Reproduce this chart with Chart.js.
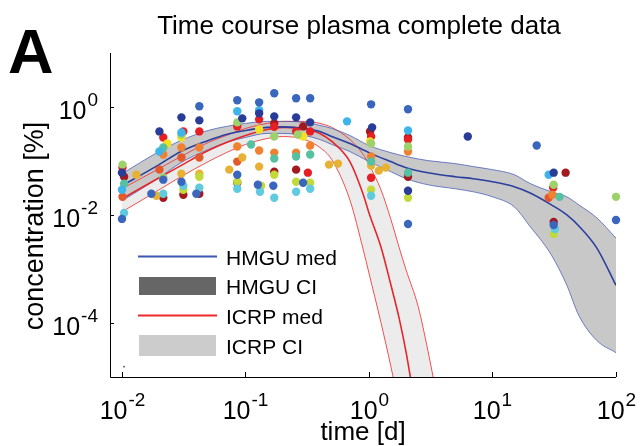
<!DOCTYPE html>
<html><head><meta charset="utf-8">
<script src="https://cdn.jsdelivr.net/npm/chart.js@4.4.0/dist/chart.umd.min.js"></script>
<style>html,body{margin:0;padding:0;background:#fff;}#wrap{width:643px;height:446px;}</style>
</head><body><div id="wrap"><canvas id="c" width="643" height="446"></canvas></div>
<script>
// ---- axis ticks ----
const xTicks = [0.01, 0.1, 1, 10, 100];
const xTickExp = ['-2', '-1', '0', '1', '2'];
const yTicks = [1e-4, 1e-2, 1];
const yTickExp = ['-4', '-2', '0'];

// ---- HMGU model (median + CI) ----
const hmguT   = [0.01,0.02,0.03,0.05,0.07,0.1,0.15,0.2,0.3,0.4,0.5,0.7,1,1.5,2,3,5,7,10,15,20,30,40,50,70,100];
const hmguMed = [0.0348,0.0857,0.150,0.240,0.310,0.368,0.419,0.428,0.401,0.353,0.284,0.211,0.143,0.0975,0.0753,0.0608,0.0512,0.047,0.0413,0.0334,0.0258,0.0154,0.01005,0.00627,0.00244,0.000499];
const hmguHi  = [0.0582,0.150,0.240,0.368,0.437,0.497,0.542,0.542,0.519,0.456,0.401,0.297,0.194,0.143,0.121,0.1017,0.0895,0.0787,0.0692,0.0558,0.0387,0.0269,0.0217,0.0154,0.00883,0.00374];
const hmguLo  = [0.0183,0.0491,0.0933,0.163,0.220,0.273,0.324,0.324,0.297,0.250,0.202,0.150,0.0975,0.0635,0.047,0.0363,0.0306,0.0269,0.0217,0.01415,0.00627,0.00181,0.000499,0.000138,4.72e-5,2.82e-5];

// ---- ICRP model (median + CI) ----
const icrpT   = [0.01,0.02,0.03,0.05,0.07,0.1,0.15,0.2,0.3,0.4,0.5,0.7,0.9,1,1.25,1.5,1.75,2,2.5,3,3.5,4];
const icrpMed = [0.0199,0.0491,0.082,0.156,0.220,0.297,0.384,0.419,0.401,0.324,0.230,0.0975,0.0237,0.0109,2.55e-3,5.21e-4,1.26e-4,2.82e-5,1.23e-6,6.4e-8,3.8e-9,2.9e-10];
const icrpHi  = [0.0306,0.0722,0.121,0.220,0.297,0.401,0.497,0.542,0.542,0.497,0.419,0.250,0.1316,0.0857,0.0293,8.46e-3,2.55e-3,9.5e-4,2.03e-4,3.07e-5,5.08e-6,1.0e-6];
const icrpLo  = [0.01142,0.0293,0.0512,0.0975,0.143,0.202,0.261,0.284,0.250,0.178,0.106,0.0191,2.24e-3,8.36e-4,1.02e-4,1.61e-5,2.91e-6,5.2e-7,2.1e-8,1.05e-9,8e-11,6e-12];

// ---- measured data, one array per subject colour: [time d, concentration %] ----
const subjDarkBlue = [[0.01,0.0608],[0.0201,0.353],[0.0303,0.643],[0.0423,0.565],[0.0942,0.616],[0.129,0.763],[0.171,0.671],[0.257,0.643],[0.334,0.519],[1.06,0.419],[2.07,0.0281],[6.31,0.284],[31.3,0.0608]];
const subjBlue = [[0.01,0.00846],[0.0173,0.0247],[0.0216,0.0451],[0.0303,0.0413],[0.0423,1.03],[0.040,0.0247],[0.0858,1.33],[0.0858,0.0558],[0.129,1.22],[0.126,0.0363],[0.171,1.80],[0.168,0.0348],[0.257,1.45],[0.293,0.0396],[0.334,1.45],[1.04,1.12],[2.07,0.906],[2.07,0.00683],[22.8,0.194],[31.3,0.00654],[100,0.0081]];
const subjLightBlue = [[0.01,0.0293],[0.0201,0.150],[0.0303,0.338],[0.0858,0.832],[0.129,0.868],[0.664,0.542],[2.07,0.368],[28.5,0.0558]];
const subjCyan = [[0.0104,0.0109],[0.0216,0.0247],[0.0314,0.0348],[0.0423,0.032],[0.0858,0.0306],[0.131,0.0269],[0.171,0.0208],[0.257,0.0269],[0.334,0.0306],[1.04,0.0227],[32,0.00551]];
const subjTeal = [[0.0104,0.0379],[0.0216,0.178],[0.111,0.202],[0.171,0.111],[0.257,0.121],[0.334,0.132],[1.04,0.0975],[2.07,0.0608],[34.9,0.0217]];
const subjLightGreen = [[0.0101,0.0857],[0.0216,0.0491],[0.0303,0.31],[0.0858,0.519],[0.171,0.284],[0.265,0.31],[1.04,0.211],[2.07,0.185],[31.3,0.0363],[100,0.0217]];
const subjYellowGreen = [[0.0314,0.0293],[0.0423,0.0512],[0.0858,0.0413],[0.134,0.0348],[0.171,0.0558],[0.257,0.0413],[0.334,0.0396],[1.04,0.0293],[2.07,0.0208],[31.3,0.00445]];
const subjYellow = [[0.0233,0.211],[0.0303,0.273],[0.129,0.384],[0.293,0.284],[1.02,0.230]];
const subjGold = [[0.0131,0.0558],[0.019,0.0227],[0.0303,0.0582],[0.0423,0.0582],[0.0739,0.0692],[0.0942,0.116],[0.129,0.0787],[0.475,0.0857],[0.561,0.0895],[1.04,0.082],[1.20,0.0663],[1.37,0.0753]];
const subjOrange = [[0.0216,0.132],[0.0303,0.178],[0.0423,0.178],[0.0858,0.185],[0.129,0.156],[0.171,0.143],[0.257,0.143],[0.334,0.194],[1.04,0.121],[2.07,0.150],[30.5,0.0237]];
const subjRedOrange = [[0.0101,0.0217],[0.0201,0.0692],[0.0303,0.116],[0.0423,0.116],[0.0858,0.0975],[28.5,0.0208]];
const subjRed = [[0.0101,0.0753],[0.0216,0.273],[0.0314,0.353],[0.0423,0.353],[0.0858,0.437],[0.129,0.59],[0.171,0.43],[0.257,0.353],[0.334,0.353],[0.32,0.0608],[1.04,0.284],[1.04,0.0491],[2.07,0.25],[31,0.032]];
const subjDarkRed = [[0.0104,0.0512],[0.0216,0.0208],[0.0314,0.0237],[0.0423,0.0247],[0.0858,0.0396],[0.171,0.497],[0.171,0.0635],[0.257,0.0692],[0.293,0.437],[1.02,0.353],[2.07,0.273],[2.07,0.0512],[39.1,0.0608],[31.3,0.00744]];
const subjTrace = [[0.0104,1.55e-5]];

const subjects = [
  [subjDarkBlue, '#293d98', 4.2], [subjBlue, '#3a66bd', 4.2], [subjLightBlue, '#3db5ea', 4.2], [subjCyan, '#60cade', 4.2],
  [subjTeal, '#56c1a0', 4.2], [subjLightGreen, '#9dd16c', 4.2], [subjYellowGreen, '#c3d93a', 4.2], [subjYellow, '#f3e11f', 4.2],
  [subjGold, '#e7b133', 4.2], [subjOrange, '#ef8131', 4.2], [subjRedOrange, '#e4592c', 4.2], [subjRed, '#e61f25', 4.2],
  [subjDarkRed, '#a3191f', 4.2], [subjTrace, '#555555', 0.9]
];

const FONT = '"Liberation Sans", Arial, Helvetica, sans-serif';
const pts = (T, V) => T.map((t, i) => ({x: t, y: V[i]}));
const curve = (T, V, color, width, order, extra) => Object.assign({
  data: pts(T, V), showLine: true, pointRadius: 0, borderColor: color, borderWidth: width,
  cubicInterpolationMode: 'monotone', fill: false, order: order
}, extra || {});

const datasets = [];
subjects.forEach(([arr, col, r]) => datasets.push({
  data: arr.map(p => ({x: p[0], y: p[1]})), backgroundColor: col, borderWidth: 0,
  pointRadius: r, pointHoverRadius: r, clip: false, order: 0
}));
const iHmguHi = datasets.length;
datasets.push(curve(hmguT, hmguHi, 'rgba(70,90,185,0.75)', 1, 5, {fill: {target: iHmguHi + 1}, backgroundColor: '#c8c8c8'}));
datasets.push(curve(hmguT, hmguLo, 'rgba(70,90,185,0.75)', 1, 5));
const iIcrpHi = datasets.length;
datasets.push(curve(icrpT, icrpHi, 'rgba(240,50,50,0.85)', 1, 6, {fill: {target: iIcrpHi + 1}, backgroundColor: '#ececec'}));
datasets.push(curve(icrpT, icrpLo, 'rgba(240,50,50,0.85)', 1, 6));
datasets.push(curve(hmguT, hmguMed, '#2b3f9e', 1.6, 2));
datasets.push(curve(icrpT, icrpMed, '#e8262a', 1.6, 3));

function drawPow(ctx, base, exp, x, y, align) {
  ctx.font = '25px ' + FONT;
  const bw = ctx.measureText(base).width;
  ctx.font = '19px ' + FONT;
  const ew = ctx.measureText(exp).width;
  const total = bw + ew + 1;
  let x0 = align === 'right' ? x - total : x - total / 2;
  ctx.textAlign = 'left';
  ctx.textBaseline = 'alphabetic';
  ctx.font = '25px ' + FONT;
  ctx.fillText(base, x0, y);
  ctx.font = '19px ' + FONT;
  ctx.fillText(exp, x0 + bw + 1, y - 13);
}

const deco = {
  id: 'deco',
  afterDraw(chart) {
    const {ctx, chartArea: a, scales: {x, y}} = chart;
    ctx.save();
    ctx.strokeStyle = '#000';
    ctx.lineWidth = 1;
    ctx.beginPath();
    ctx.moveTo(a.left + 0.5, a.top);
    ctx.lineTo(a.left + 0.5, a.bottom + 0.5);
    ctx.lineTo(a.right, a.bottom + 0.5);
    ctx.stroke();
    ctx.fillStyle = '#000';
    xTicks.forEach((v, i) => {
      const px = Math.round(x.getPixelForValue(v)) + 0.5;
      ctx.beginPath(); ctx.moveTo(px, a.bottom); ctx.lineTo(px, a.bottom - 5); ctx.stroke();
      drawPow(ctx, '10', xTickExp[i], px, a.bottom + 42, 'center');
    });
    yTicks.forEach((v, i) => {
      const py = Math.round(y.getPixelForValue(v)) + 0.5;
      ctx.beginPath(); ctx.moveTo(a.left, py); ctx.lineTo(a.left + 4, py); ctx.stroke();
      drawPow(ctx, '10', yTickExp[i], a.left - 12, py + 11, 'right');
    });
    // axis titles
    ctx.font = '26px ' + FONT;
    ctx.textAlign = 'center';
    ctx.textBaseline = 'alphabetic';
    ctx.fillText('time [d]', (a.left + a.right) / 2, a.bottom + 63);
    ctx.save();
    ctx.font = '27px ' + FONT;
    ctx.translate(43, (a.top + a.bottom) / 2 + 11);
    ctx.rotate(-Math.PI / 2);
    ctx.fillText('concentration [%]', 0, 0);
    ctx.restore();
    // title
    ctx.font = '26px ' + FONT;
    ctx.fillText('Time course plasma complete data', (a.left + a.right) / 2 - 4, 34);
    // panel letter
    ctx.font = 'bold 63px ' + FONT;
    ctx.textAlign = 'left';
    ctx.fillText('A', 8, 73);
    // legend
    const lx0 = a.left + 28, lx1 = a.left + 107, tx = a.left + 116;
    ctx.font = '21px ' + FONT;
    ctx.lineWidth = 2;
    ctx.strokeStyle = '#3c56b2';
    ctx.beginPath(); ctx.moveTo(lx0, 256.5); ctx.lineTo(lx1, 256.5); ctx.stroke();
    ctx.fillStyle = '#666666';
    ctx.fillRect(lx0 + 1, 277, lx1 - lx0 - 2, 18);
    ctx.strokeStyle = '#f0292b';
    ctx.beginPath(); ctx.moveTo(lx0, 315.5); ctx.lineTo(lx1, 315.5); ctx.stroke();
    ctx.fillStyle = '#cccccc';
    ctx.fillRect(lx0 + 1, 335, lx1 - lx0 - 2, 21);
    ctx.fillStyle = '#000';
    ctx.fillText('HMGU med', tx, 265);
    ctx.fillText('HMGU CI', tx, 294);
    ctx.fillText('ICRP med', tx, 323.5);
    ctx.fillText('ICRP CI', tx, 353.5);
    ctx.restore();
  }
};

new Chart(document.getElementById('c'), {
  type: 'scatter',
  data: {datasets},
  options: {
    responsive: false, animation: false, devicePixelRatio: 1, events: [],
    layout: {padding: {left: 110, right: 27, top: 53, bottom: 69}},
    scales: {
      x: {type: 'logarithmic', min: 0.008, max: 100, display: false},
      y: {type: 'logarithmic', min: 1e-5, max: 10, display: false}
    },
    plugins: {legend: {display: false}, title: {display: false}, tooltip: {enabled: false},
      filler: {drawTime: 'beforeDatasetsDraw'}}
  },
  plugins: [deco]
});
</script></body></html>
